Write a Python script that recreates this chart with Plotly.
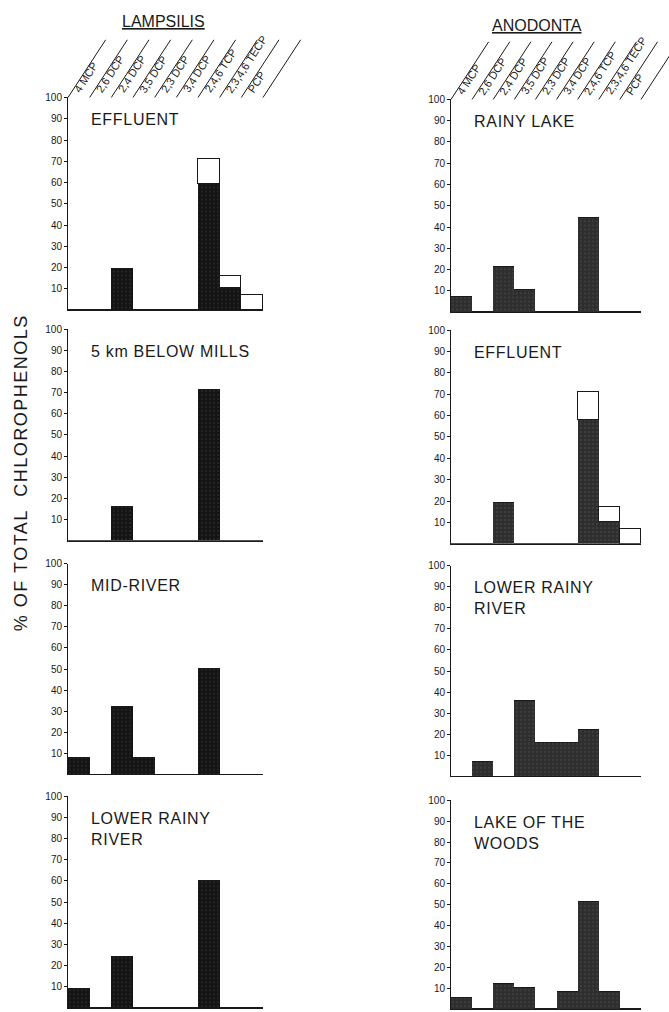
import math
import plotly.graph_objects as go

# ---------------- data ----------------
categories = ["4 MCP", "2,6 DCP", "2,4 DCP", "3,5 DCP", "2,3 DCP",
              "3,4 DCP", "2,4,6 TCP", "2,3,4,6 TECP", "PCP"]
tick_vals = [10, 20, 30, 40, 50, 60, 70, 80, 90, 100]

# LAMPSILIS (left column)
lamp_effluent_dark = [0, 0, 19, 0, 0, 0, 59, 10, 0]
lamp_effluent_open = [0, 0, 0, 0, 0, 0, 12, 6, 7]
lamp_below_mills = [0, 0, 16, 0, 0, 0, 71, 0, 0]
lamp_mid_river = [8, 0, 32, 8, 0, 0, 50, 0, 0]
lamp_lower_rainy = [9, 0, 24, 0, 0, 0, 60, 0, 0]

# ANODONTA (right column)
anod_rainy_lake = [7, 0, 21, 10, 0, 0, 44, 0, 0]
anod_effluent_dark = [0, 0, 19, 0, 0, 0, 58, 10, 0]
anod_effluent_open = [0, 0, 0, 0, 0, 0, 13, 7, 7]
anod_lower_rainy = [0, 7, 0, 36, 16, 16, 22, 0, 0]
anod_lake_woods = [5, 0, 12, 10, 0, 8, 51, 8, 0]

zeros = [0] * 9
panels = [
    # column, row, title, dark values, open values
    (0, 0, "EFFLUENT", lamp_effluent_dark, lamp_effluent_open),
    (0, 1, "5 km BELOW MILLS", lamp_below_mills, zeros),
    (0, 2, "MID-RIVER", lamp_mid_river, zeros),
    (0, 3, "LOWER RAINY<br>RIVER", lamp_lower_rainy, zeros),
    (1, 0, "RAINY LAKE", anod_rainy_lake, zeros),
    (1, 1, "EFFLUENT", anod_effluent_dark, anod_effluent_open),
    (1, 2, "LOWER RAINY<br>RIVER", anod_lower_rainy, zeros),
    (1, 3, "LAKE OF THE<br>WOODS", anod_lake_woods, zeros),
]

# ---------------- layout geometry (pixels) ----------------
W, H = 669, 1012
col_x = [(68, 263), (451, 641)]
row_y = [  # (top=100, bottom=0) per column
    [(92, 306), (325, 538), (561, 773), (795, 1008)],
    [(94, 308), (326, 541), (563, 775), (799, 1009)],
]
dark_colors = ["#141414", "#2e2e2e"]
speck_colors = ["#5e5e5e", "#747474"]
ink = "#1a1a1a"
FONT = "Liberation Sans, Arial, sans-serif"

fig = go.Figure()
layout_axes = {}
annotations = []
shapes = []

for k, (col, row, title, dark, opn) in enumerate(panels):
    idx = "" if k == 0 else str(k + 1)
    xa, ya = "x" + idx, "y" + idx
    x0, x1 = col_x[col]
    ytop, ybot = row_y[col][row]
    layout_axes["xaxis" + idx] = dict(
        domain=[x0 / W, x1 / W], anchor=ya, range=[-0.5, 8.5],
        showticklabels=False, ticks="", showgrid=False, zeroline=False,
        showline=True, linecolor=ink, linewidth=1, fixedrange=True,
    )
    layout_axes["yaxis" + idx] = dict(
        domain=[1 - ybot / H, 1 - ytop / H], anchor=xa, range=[0, 100],
        tickvals=tick_vals, ticks="outside", ticklen=3, tickwidth=1,
        tickcolor=ink, showgrid=False, zeroline=False, showline=True,
        linecolor=ink, linewidth=1,
        tickfont=dict(family=FONT, size=10, color=ink), fixedrange=True,
    )
    fig.add_trace(go.Bar(
        x=list(range(9)), y=dark, width=1, xaxis=xa, yaxis=ya,
        cliponaxis=False,
        marker=dict(color=dark_colors[col], line=dict(width=0),
                    pattern=dict(shape=".", fgcolor=speck_colors[col],
                                 size=4, solidity=0.12)),
        hoverinfo="skip",
    ))
    fig.add_trace(go.Bar(
        x=list(range(9)), y=opn, width=1, xaxis=xa, yaxis=ya,
        cliponaxis=False,
        marker=dict(color="white", line=dict(width=1, color=ink)),
        hoverinfo="skip",
    ))
    annotations.append(dict(
        text='<span style="letter-spacing:0.7px">' + title + '</span>',
        xref=xa + " domain", yref=ya + " domain",
        x=0.11, y=0.945, xanchor="left", yanchor="top", showarrow=False,
        align="left", font=dict(family=FONT, size=16, color=ink),
    ))
    # slanted compound labels across the top row
    if row == 0:
        ang = 57.0
        rise = 58.0
        axw = x1 - x0
        axh = ybot - ytop
        run = rise / math.tan(math.radians(ang))
        for i, cat in enumerate(categories):
            annotations.append(dict(
                text=cat, xref=xa, yref=ya, x=i - 0.5, y=100,
                xanchor="left", yanchor="bottom", textangle=-ang,
                showarrow=False, xshift=1, yshift=0,
                font=dict(family=FONT, size=11, color=ink),
            ))
        for i in range(10):
            fx = i / 9.0
            shapes.append(dict(
                type="line", xref=xa + " domain", yref=ya + " domain",
                x0=fx, y0=1.0, x1=fx + run / axw, y1=1.0 + rise / axh,
                line=dict(color=ink, width=1),
            ))

annotations.append(dict(
    text="<u>LAMPSILIS</u>", xref="paper", yref="paper",
    x=163 / W, y=1 - 16 / H, xanchor="center", yanchor="middle",
    showarrow=False, font=dict(family=FONT, size=16, color=ink),
))
annotations.append(dict(
    text="<u>ANODONTA</u>", xref="paper", yref="paper",
    x=537 / W, y=1 - 20 / H, xanchor="center", yanchor="middle",
    showarrow=False, font=dict(family=FONT, size=16, color=ink),
))
annotations.append(dict(
    text='<span style="letter-spacing:1.5px">% OF TOTAL  CHLOROPHENOLS</span>',
    xref="paper", yref="paper",
    x=21 / W, y=1 - 470 / H, xanchor="center", yanchor="middle",
    textangle=-90, showarrow=False,
    font=dict(family=FONT, size=18, color=ink),
))

fig.update_layout(
    width=W, height=H, margin=dict(l=0, r=0, t=0, b=0),
    paper_bgcolor="white", plot_bgcolor="white",
    barmode="stack", bargap=0, showlegend=False,
    annotations=annotations, shapes=shapes,
    **layout_axes,
)

fig.write_html(
    "out.html",
    config={"displayModeBar": False},
    post_script="document.body.style.margin='0px';"
                "document.body.style.overflow='hidden';",
)
